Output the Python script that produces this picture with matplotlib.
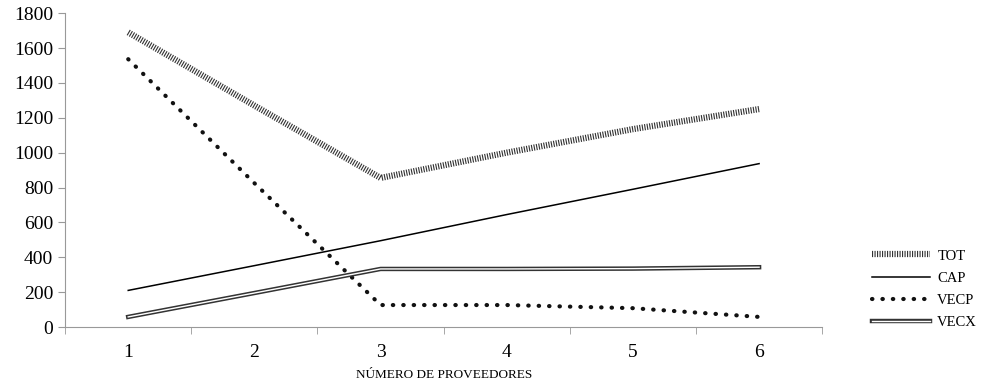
import matplotlib.pyplot as plt
import matplotlib.patheffects as pe

plt.rcParams['font.family'] = ['Liberation Serif', 'DejaVu Serif']

proveedores = [1, 2, 3, 4, 5, 6]
tot = [1690, 1270, 855, 1000, 1135, 1250]
cap = [210, 352, 495, 645, 790, 937]
vecp = [1536, 825, 126, 126, 108, 58]
vecx = [58, 195, 333, 333, 335, 343]

fig = plt.figure(figsize=(9.87, 3.87), dpi=100)
ax = fig.add_axes([0.066, 0.155, 0.767, 0.811])

ax.plot(proveedores, tot, color='#333333', lw=4.5, dashes=(0.18, 0.22),
        dash_capstyle='butt', label='TOT')
ax.plot(proveedores, cap, color='black', lw=1.1, label='CAP')
ax.plot(proveedores, vecp, color='#111111', lw=3.0, linestyle=(0, (0.1, 2.4)),
        dash_capstyle='round', label='VECP')
ax.plot(proveedores, vecx, color='#333333', lw=3.2, label='VECX')
# inner white stroke for the double line
ax.lines[-1].set_path_effects([pe.Stroke(linewidth=3.2, foreground='#333333'),
                               pe.Stroke(linewidth=1.0, foreground='white')])

ax.set_xlim(0.5, 6.5)
ax.set_ylim(0, 1800)
ax.set_yticks(range(0, 1801, 200))
ax.set_xticks(proveedores)
ax.set_xticks([0.5 + i for i in range(7)], minor=True)
ax.tick_params(axis='x', which='major', length=0, pad=12, labelsize=14)
ax.tick_params(axis='x', which='minor', length=5, color='#999999')
ax.tick_params(axis='y', length=5, color='#999999', labelsize=14)
for s in ['top', 'right']:
    ax.spines[s].set_visible(False)
for s in ['left', 'bottom']:
    ax.spines[s].set_color('#999999')
ax.set_xlabel('NÚMERO DE PROVEEDORES', fontsize=9.5, labelpad=6)

ax.legend(loc='center left', bbox_to_anchor=(1.048, 0.12), frameon=False,
          fontsize=10.5, handlelength=4.0, labelspacing=0.62, handletextpad=0.5)

fig.savefig('out.png', dpi=100)
